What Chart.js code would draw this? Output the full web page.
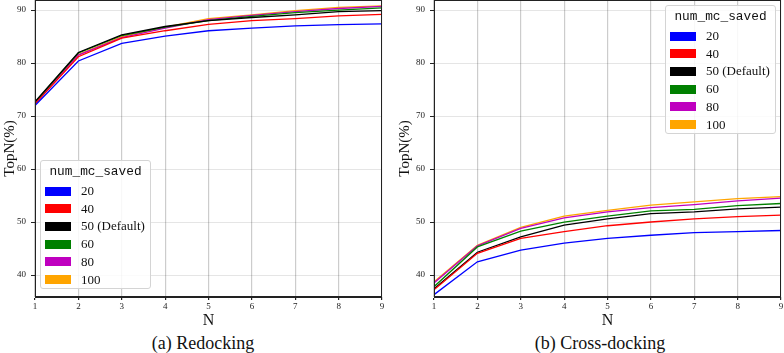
<!DOCTYPE html>
<html lang="en">
<head>
<meta charset="UTF-8">
<title>TopN vs N</title>
<script src="https://cdn.jsdelivr.net/npm/chart.js"></script>
<style>
  body { margin: 0; background: #fff; }
  #wrap { position: relative; width: 784px; height: 353px; overflow: hidden; font-family: "Liberation Serif", serif; color: #111; }
  canvas { position: absolute; top: 0; }
  #chartA { left: 0; }
  #chartB { left: 392px; }
  .caption { position: absolute; top: 333px; font-family: "Liberation Serif", serif; font-size: 18px; line-height: 20px; transform: translateX(-50%); white-space: nowrap; }
  .legend { position: absolute; width: 111px; height: 129px; background: rgba(255,255,255,0.85); border: 1px solid #d4d4d4; border-radius: 3px; box-sizing: border-box; }
  .legend .ttl { position: absolute; left: 0; right: 0; top: 3px; text-align: center; font-family: "Liberation Mono", monospace; font-size: 12.8px; line-height: 16px; }
  .legend .sw { position: absolute; left: 4px; width: 26px; height: 9px; }
  .legend .lb { position: absolute; left: 40px; font-family: "Liberation Serif", serif; font-size: 13px; line-height: 14px; white-space: nowrap; }
</style>
</head>
<body>
<div id="wrap">
  <canvas id="chartA" width="392" height="332"></canvas>
  <canvas id="chartB" width="392" height="332"></canvas>
  <div class="caption" style="left:203px">(a) Redocking</div>
  <div class="caption" style="left:600px">(b) Cross-docking</div>
  <div class="legend" id="legA" style="left:40px; top:160px"></div>
  <div class="legend" id="legB" style="left:665px; top:5px"></div>
</div>

<script>
const N = [1, 2, 3, 4, 5, 6, 7, 8, 9];
const seriesLabels = ['20', '40', '50 (Default)', '60', '80', '100'];
const seriesColors = ['#0000ff', '#ff0000', '#000000', '#008000', '#bf00bf', '#ffa500'];
const yTicks = [40, 50, 60, 70, 80, 90];

// (a) Redocking
const redock20 = [72.0, 80.4, 83.7, 85.1, 86.1, 86.6, 87.0, 87.25, 87.4];
const redock40 = [72.3, 81.2, 84.7, 86.1, 87.3, 88.0, 88.4, 88.9, 89.2];
const redock50 = [72.7, 82.0, 85.3, 86.9, 88.0, 88.6, 89.1, 89.7, 89.9];
const redock60 = [72.6, 81.9, 85.2, 86.8, 88.0, 88.8, 89.5, 90.0, 90.4];
const redock80 = [72.4, 81.5, 84.8, 86.6, 88.2, 89.0, 89.7, 90.3, 90.7];
const redock100 = [72.5, 81.6, 85.0, 86.8, 88.4, 89.1, 89.9, 90.5, 90.8];

// (b) Cross-docking
const cross20 = [36.3, 42.5, 44.7, 46.0, 46.9, 47.5, 48.0, 48.2, 48.4];
const cross40 = [37.2, 44.1, 46.9, 48.2, 49.3, 50.0, 50.6, 51.0, 51.3];
const cross50 = [37.4, 44.3, 47.2, 49.4, 50.6, 51.6, 51.9, 52.5, 52.8];
const cross60 = [37.8, 45.3, 48.3, 50.0, 51.1, 52.1, 52.4, 53.1, 53.5];
const cross80 = [38.5, 45.5, 48.8, 50.8, 51.9, 52.7, 53.3, 54.0, 54.5];
const cross100 = [38.7, 45.6, 49.0, 51.1, 52.2, 53.2, 53.8, 54.4, 54.8];

const serif = '"Liberation Serif", serif';

// matplotlib style box around the plot area
const frame = {
  id: 'frame',
  afterDatasetsDraw(chart) {
    const a = chart.chartArea, ctx = chart.ctx;
    ctx.save();
    ctx.strokeStyle = '#222';
    ctx.lineWidth = 1;
    ctx.strokeRect(Math.round(a.left) + 0.5, Math.round(a.top) + 0.5, Math.round(a.right - a.left) - 1, Math.round(a.bottom - a.top) - 1);
    ctx.restore();
  }
};

function makeChart(id, values, yWidth, padRight, titlePad) {
  return new Chart(document.getElementById(id), {
    type: 'line',
    data: {
      datasets: values.map((v, i) => ({
        label: seriesLabels[i],
        data: N.map((n, j) => ({ x: n, y: v[j] })),
        borderColor: seriesColors[i],
        backgroundColor: seriesColors[i],
        borderWidth: 1.3,
        pointRadius: 0,
        tension: 0,
        fill: false
      }))
    },
    options: {
      responsive: false,
      animation: false,
      layout: { padding: { left: 0, top: 0, right: padRight, bottom: 0 } },
      plugins: { legend: { display: false }, tooltip: { enabled: false } },
      scales: {
        x: {
          type: 'linear', min: 1, max: 9,
          ticks: { stepSize: 1, font: { family: serif, size: 9 }, color: '#222', padding: 1, maxRotation: 0 },
          grid: { color: 'rgba(0,0,0,0.2)', lineWidth: 1.2, tickLength: 3, tickColor: '#222' },
          border: { color: '#222', width: 1 },
          title: { display: true, text: 'N', font: { family: serif, size: 16 }, color: '#111', padding: { top: 0, bottom: 2 } },
          afterFit(s) { s.height = 35; s.paddingLeft = 0; s.paddingRight = 0; }
        },
        y: {
          min: 35.85, max: 91.9,
          afterBuildTicks(s) { s.ticks = yTicks.map(v => ({ value: v })); },
          ticks: { font: { family: serif, size: 9 }, color: '#222', padding: 5 },
          grid: { color: 'rgba(0,0,0,0.1)', lineWidth: 1, tickLength: 4, tickColor: '#222' },
          border: { color: '#222', width: 1 },
          title: { display: true, text: 'TopN(%)', font: { family: serif, size: 15 }, color: '#111', padding: { top: titlePad, bottom: 0 } },
          afterFit(s) { s.width = yWidth; s.paddingTop = 0; s.paddingBottom = 0; }
        }
      }
    },
    plugins: [frame]
  });
}

function makeLegend(id) {
  const el = document.getElementById(id);
  let html = '<div class="ttl">num_mc_saved</div>';
  seriesLabels.forEach((lab, i) => {
    const cy = 30 + i * 17.7;
    html += `<div class="sw" style="top:${cy - 4.5}px;background:${seriesColors[i]}"></div>`;
    html += `<div class="lb" style="top:${cy - 7}px">${lab}</div>`;
  });
  el.innerHTML = html;
}

makeChart('chartA', [redock20, redock40, redock50, redock60, redock80, redock100], 35, 10, 1);
makeChart('chartB', [cross20, cross40, cross50, cross60, cross80, cross100], 42, 3, 4);
makeLegend('legA');
makeLegend('legB');
</script>
</body>
</html>
